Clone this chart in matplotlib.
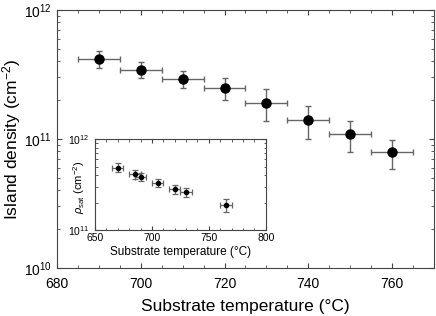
import matplotlib
matplotlib.use("Agg")
import matplotlib.pyplot as plt
from matplotlib.ticker import MultipleLocator, LogLocator, NullFormatter

plt.rcParams['font.family'] = ['Liberation Sans', 'DejaVu Sans']
plt.rcParams['mathtext.fontset'] = 'custom'
plt.rcParams['mathtext.rm'] = 'Liberation Sans'
plt.rcParams['mathtext.it'] = 'Liberation Sans:italic'
plt.rcParams['mathtext.sf'] = 'Liberation Sans'

# main data: island density vs substrate temperature
temp = [690, 700, 710, 720, 730, 740, 750, 760]
dens = [4.2e11, 3.45e11, 2.92e11, 2.49e11, 1.9e11, 1.40e11, 1.09e11, 0.79e11]
dens_err = [0.65e11, 0.48e11, 0.42e11, 0.5e11, 0.52e11, 0.4e11, 0.3e11, 0.2e11]
temp_err = [5, 5, 5, 5, 5, 5, 5, 5]

# inset data: saturation density
temp_in = [670, 685, 690, 705, 720, 730, 765]
rho_in = [4.86e11, 4.11e11, 3.87e11, 3.32e11, 2.83e11, 2.60e11, 1.87e11]
rho_err = [0.55e11, 0.45e11, 0.4e11, 0.37e11, 0.33e11, 0.3e11, 0.3e11]
temp_in_err = [5, 5, 5, 5, 5, 5, 5]

fig = plt.figure(figsize=(4.36, 3.16), dpi=100)
ax = fig.add_axes([0.1307, 0.1519, 0.8647, 0.8165])

ax.errorbar(temp, dens, yerr=dens_err, xerr=temp_err, fmt='o', color='black',
            ms=6.5, ecolor='#666666', elinewidth=1, capsize=2.5, capthick=1)
ax.set_yscale('log')
ax.set_xlim(680, 770)
ax.set_ylim(1e10, 1e12)
ax.xaxis.set_major_locator(MultipleLocator(20))
ax.xaxis.set_minor_locator(MultipleLocator(5))
ax.yaxis.set_major_locator(LogLocator(base=10, numticks=5))
ax.yaxis.set_minor_locator(LogLocator(base=10, subs=range(2, 10), numticks=20))
ax.yaxis.set_minor_formatter(NullFormatter())
ax.tick_params(which='both', direction='in', top=True, right=True,
               color='#444444', labelsize=10)
ax.tick_params(axis='x', which='major', pad=6.5)
ax.tick_params(which='major', length=3.5)
ax.tick_params(which='minor', length=2.2)
for s in ax.spines.values():
    s.set_color('#444444')
ax.set_xlabel('Substrate temperature (°C)', fontsize=12.5, labelpad=6)
ax.set_ylabel('Island density (cm$^{-2}$)', fontsize=12.5)
ax.yaxis.set_label_coords(-0.09, 0.5)

# inset
ins = fig.add_axes([0.2179, 0.2722, 0.3915, 0.287])
ins.errorbar(temp_in, rho_in, yerr=rho_err, xerr=temp_in_err, fmt='o', color='black',
             ms=3, ecolor='#666666', elinewidth=0.9, capsize=2, capthick=0.9)
ins.set_yscale('log')
ins.set_xlim(650, 800)
ins.set_ylim(1e11, 1e12)
ins.xaxis.set_major_locator(MultipleLocator(50))
ins.xaxis.set_minor_locator(MultipleLocator(10))
ins.yaxis.set_major_locator(LogLocator(base=10, numticks=5))
ins.yaxis.set_minor_locator(LogLocator(base=10, subs=range(2, 10), numticks=20))
ins.yaxis.set_minor_formatter(NullFormatter())
ins.tick_params(which='both', direction='in', top=True, right=True,
                color='#444444', labelsize=7.5)
ins.tick_params(axis='x', which='major', pad=2.5)
ins.tick_params(axis='y', which='major', pad=4)
ins.tick_params(which='major', length=3)
ins.tick_params(which='minor', length=1.8)
for s in ins.spines.values():
    s.set_color('#444444')
ins.set_xlabel('Substrate temperature (°C)', fontsize=8.5, labelpad=2)
ins.set_ylabel(r'$\rho_{\rm sat}$ (cm$^{-2}$)', fontsize=8)
ins.yaxis.set_label_coords(-0.045, 0.47)

fig.savefig('out.png', dpi=100)
